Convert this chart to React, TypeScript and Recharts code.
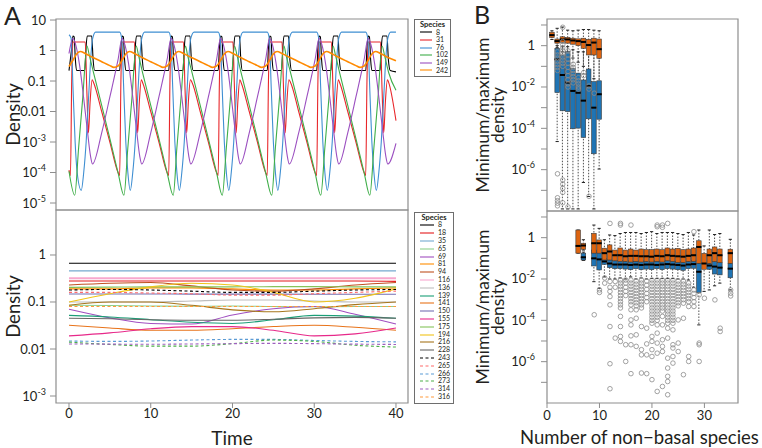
import React from 'react';
import {
  LineChart, Line, XAxis, YAxis, ReferenceArea, Legend,
  ComposedChart, Bar, ScatterChart, Scatter,
} from 'recharts';

const FONT = 'Lato, "Open Sans", sans-serif';
const FRAME = '#8e8e8e';
const INK = '#231f20';

// ---------- Panel A (top): oscillating community, [time, density]
const a8 = [
  [0, 0.22], [0.33, 1.2], [0.48, 3], [0.63, 2.8], [0.78, 0.5], [0.93, 0.22], [1.93, 0.22], [2.08, 1.2], [2.23, 3], [2.78, 3], [2.95, 0.5], [3.15, 0.22],
  [6.2, 0.22], [6.35, 1.2], [6.5, 3], [6.65, 2.8], [6.8, 0.5], [6.95, 0.22], [7.95, 0.22], [8.1, 1.2], [8.25, 3], [8.8, 3], [8.97, 0.5], [9.17, 0.22],
  [12.2, 0.22], [12.35, 1.2], [12.5, 3], [12.65, 2.8], [12.8, 0.5], [12.95, 0.22], [13.95, 0.22], [14.1, 1.2], [14.25, 3], [14.8, 3], [14.97, 0.5], [15.2, 0.22],
  [18.25, 0.22], [18.4, 1.2], [18.55, 3], [18.7, 2.8], [18.85, 0.5], [19.0, 0.22], [20.0, 0.22], [20.15, 1.2], [20.3, 3], [20.85, 3], [21.02, 0.5], [21.22, 0.22],
  [24.25, 0.22], [24.4, 1.2], [24.55, 3], [24.7, 2.8], [24.85, 0.5], [25.0, 0.22], [26.0, 0.22], [26.15, 1.2], [26.3, 3], [26.85, 3], [27.02, 0.5], [27.25, 0.22],
  [30.3, 0.22], [30.45, 1.2], [30.6, 3], [30.75, 2.8], [30.9, 0.5], [31.05, 0.22], [32.05, 0.22], [32.2, 1.2], [32.35, 3], [32.9, 3], [33.07, 0.5], [33.3, 0.22],
  [36.3, 0.22], [36.45, 1.2], [36.6, 3], [36.75, 2.8], [36.9, 0.5], [37.05, 0.22], [38.05, 0.22], [38.2, 1.2], [38.35, 3], [38.9, 3], [39.07, 0.5], [39.3, 0.22],
  [40, 0.2],
];
const a31 = [
  [0, 1.2e-4], [0.18, 8e-5], [0.33, 0.1], [0.48, 1.9], [1.98, 1.9], [2.18, 0.05], [2.38, 2e-3], [2.58, 0.02], [2.83, 0.11],
  [3.0, 0.09], [4.0, 0.01], [5.0, 1e-3], [6.0, 1e-4], [6.2, 8e-5], [6.35, 0.1], [6.5, 1.9], [8.0, 1.9], [8.2, 0.05], [8.4, 2e-3], [8.6, 0.02], [8.85, 0.11],
  [9.0, 0.09], [10.0, 0.01], [11.0, 1e-3], [12.0, 1e-4], [12.2, 8e-5], [12.35, 0.1], [12.5, 1.9], [14.0, 1.9], [14.2, 0.05], [14.4, 2e-3], [14.6, 0.02], [14.85, 0.11],
  [15.05, 0.09], [16.05, 0.01], [17.05, 1e-3], [18.05, 1e-4], [18.25, 8e-5], [18.4, 0.1], [18.55, 1.9], [20.05, 1.9], [20.25, 0.05], [20.45, 2e-3], [20.65, 0.02], [20.9, 0.11],
  [21.05, 0.09], [22.05, 0.01], [23.05, 1e-3], [24.05, 1e-4], [24.25, 8e-5], [24.4, 0.1], [24.55, 1.9], [26.05, 1.9], [26.25, 0.05], [26.45, 2e-3], [26.65, 0.02], [26.9, 0.11],
  [27.1, 0.09], [28.1, 0.01], [29.1, 1e-3], [30.1, 1e-4], [30.3, 8e-5], [30.45, 0.1], [30.6, 1.9], [32.1, 1.9], [32.3, 0.05], [32.5, 2e-3], [32.7, 0.02], [32.95, 0.11],
  [33.1, 0.09], [34.1, 0.01], [35.1, 1e-3], [36.1, 1e-4], [36.3, 8e-5], [36.45, 0.1], [36.6, 1.9], [38.1, 1.9], [38.3, 0.05], [38.5, 2e-3], [38.7, 0.02], [38.95, 0.11],
  [39.1, 0.09], [40, 5e-3],
];
const a76 = [
  [0, 3.3], [0.25, 2.6], [0.5, 0.05], [0.75, 1e-3], [1.0, 1e-4], [1.5, 2.6e-5], [1.8, 1e-4], [2.1, 1e-3], [2.4, 0.03], [2.7, 0.8], [2.9, 2.5],
  [3.25, 4], [6.2, 4], [6.45, 2.5], [6.7, 0.05], [6.95, 1e-3], [7.2, 1e-4], [7.5, 2.6e-5], [7.8, 1e-4], [8.1, 1e-3], [8.4, 0.03], [8.7, 0.8], [8.9, 2.5],
  [9.25, 4], [12.2, 4], [12.45, 2.5], [12.7, 0.05], [12.95, 1e-3], [13.2, 1e-4], [13.5, 2.6e-5], [13.8, 1e-4], [14.1, 1e-3], [14.4, 0.03], [14.7, 0.8], [14.9, 2.5],
  [15.3, 4], [18.25, 4], [18.5, 2.5], [18.75, 0.05], [19.0, 1e-3], [19.25, 1e-4], [19.55, 2.6e-5], [19.85, 1e-4], [20.15, 1e-3], [20.45, 0.03], [20.75, 0.8], [20.95, 2.5],
  [21.3, 4], [24.25, 4], [24.5, 2.5], [24.75, 0.05], [25.0, 1e-3], [25.25, 1e-4], [25.55, 2.6e-5], [25.85, 1e-4], [26.15, 1e-3], [26.45, 0.03], [26.75, 0.8], [26.95, 2.5],
  [27.35, 4], [30.3, 4], [30.55, 2.5], [30.8, 0.05], [31.05, 1e-3], [31.3, 1e-4], [31.6, 2.6e-5], [31.9, 1e-4], [32.2, 1e-3], [32.5, 0.03], [32.8, 0.8], [33.0, 2.5],
  [33.35, 4], [36.3, 4], [36.55, 2.5], [36.8, 0.05], [37.05, 1e-3], [37.3, 1e-4], [37.6, 2.6e-5], [37.9, 1e-4], [38.2, 1e-3], [38.5, 0.03], [38.8, 0.8], [39.0, 2.5],
  [39.35, 4], [40, 4],
];
const a102 = [
  [0, 1.1e-4], [0.7, 1.8e-5], [1.18, 6.6e-4], [1.68, 0.028], [2.2, 1.4], [2.48, 0.7],
  [3.0, 0.19], [4.0, 0.016], [5.0, 1.3e-3], [6.0, 1e-4], [6.72, 1.8e-5], [7.2, 6.6e-4], [7.7, 0.028], [8.22, 1.4], [8.5, 0.7],
  [9.0, 0.19], [10.0, 0.016], [11.0, 1.3e-3], [12.0, 1e-4], [12.75, 1.8e-5], [13.2, 6.6e-4], [13.7, 0.028], [14.25, 1.4], [14.5, 0.7],
  [15.05, 0.19], [16.05, 0.016], [17.05, 1.3e-3], [18.05, 1e-4], [18.75, 1.8e-5], [19.25, 6.6e-4], [19.75, 0.028], [20.25, 1.4], [20.55, 0.7],
  [21.05, 0.19], [22.05, 0.016], [23.05, 1.3e-3], [24.05, 1e-4], [24.8, 1.8e-5], [25.25, 6.6e-4], [25.75, 0.028], [26.3, 1.4], [26.55, 0.7],
  [27.1, 0.19], [28.1, 0.016], [29.1, 1.3e-3], [30.1, 1e-4], [30.8, 1.8e-5], [31.3, 6.6e-4], [31.8, 0.028], [32.3, 1.4], [32.6, 0.7],
  [33.1, 0.19], [34.1, 0.016], [35.1, 1.3e-3], [36.1, 1e-4], [36.8, 1.8e-5], [37.3, 6.6e-4], [37.8, 0.028], [38.3, 1.4], [38.6, 0.7],
  [39.1, 0.19], [40, 0.05],
];
const a149 = [
  [0, 0.8], [0.48, 2.5], [0.83, 1.5], [1.28, 0.35], [1.78, 0.03], [2.28, 2e-3], [2.63, 3.5e-4], [2.88, 1.9e-4],
  [4.0, 2e-3], [5.0, 0.03], [6.0, 0.5], [6.5, 2.5], [6.85, 1.5], [7.3, 0.35], [7.8, 0.03], [8.3, 2e-3], [8.65, 3.5e-4], [8.9, 1.9e-4],
  [10.0, 2e-3], [11.0, 0.03], [12.0, 0.5], [12.5, 2.5], [12.85, 1.5], [13.3, 0.35], [13.8, 0.03], [14.3, 2e-3], [14.65, 3.5e-4], [14.9, 1.9e-4],
  [16.05, 2e-3], [17.05, 0.03], [18.05, 0.5], [18.55, 2.5], [18.9, 1.5], [19.35, 0.35], [19.85, 0.03], [20.35, 2e-3], [20.7, 3.5e-4], [20.95, 1.9e-4],
  [22.05, 2e-3], [23.05, 0.03], [24.05, 0.5], [24.55, 2.5], [24.9, 1.5], [25.35, 0.35], [25.85, 0.03], [26.35, 2e-3], [26.7, 3.5e-4], [26.95, 1.9e-4],
  [28.1, 2e-3], [29.1, 0.03], [30.1, 0.5], [30.6, 2.5], [30.95, 1.5], [31.4, 0.35], [31.9, 0.03], [32.4, 2e-3], [32.75, 3.5e-4], [33.0, 1.9e-4],
  [34.1, 2e-3], [35.1, 0.03], [36.1, 0.5], [36.6, 2.5], [36.95, 1.5], [37.4, 0.35], [37.9, 0.03], [38.4, 2e-3], [38.75, 3.5e-4], [39.0, 1.9e-4],
  [40, 9e-4],
];
const a242 = [
  [0, 0.3], [0.48, 0.48], [0.98, 0.8], [1.38, 0.93], [1.98, 0.8], [2.48, 0.68],
  [3.0, 0.58], [4.0, 0.43], [5.0, 0.32], [5.5, 0.28], [6.0, 0.31], [6.5, 0.48], [7.0, 0.8], [7.4, 0.93], [8.0, 0.8], [8.5, 0.68],
  [9.0, 0.58], [10.0, 0.43], [11.0, 0.32], [11.5, 0.28], [12.0, 0.31], [12.5, 0.48], [13.0, 0.8], [13.4, 0.93], [14.0, 0.8], [14.5, 0.68],
  [15.05, 0.58], [16.05, 0.43], [17.05, 0.32], [17.55, 0.28], [18.05, 0.31], [18.55, 0.48], [19.05, 0.8], [19.45, 0.93], [20.05, 0.8], [20.55, 0.68],
  [21.05, 0.58], [22.05, 0.43], [23.05, 0.32], [23.55, 0.28], [24.05, 0.31], [24.55, 0.48], [25.05, 0.8], [25.45, 0.93], [26.05, 0.8], [26.55, 0.68],
  [27.1, 0.58], [28.1, 0.43], [29.1, 0.32], [29.6, 0.28], [30.1, 0.31], [30.6, 0.48], [31.1, 0.8], [31.5, 0.93], [32.1, 0.8], [32.6, 0.68],
  [33.1, 0.58], [34.1, 0.43], [35.1, 0.32], [35.6, 0.28], [36.1, 0.31], [36.6, 0.48], [37.1, 0.8], [37.5, 0.93], [38.1, 0.8], [38.6, 0.68],
  [39.1, 0.58], [40, 0.46],
];
const topIds = ['8', '31', '76', '102', '149', '242'];
const topColors = ['#000000', '#e8262a', '#3f8fd2', '#3fae49', '#9b4fc0', '#ff8a00'];
const topSeries = [a8, a31, a76, a102, a149, a242];

// ---------- Panel A (bottom): stable community, densities at these times
const bottomTimes = [0, 5, 10, 15, 20, 25, 30, 35, 40];
const d8 = [0.665, 0.665, 0.665, 0.665, 0.665, 0.665, 0.665, 0.665, 0.665];
const d18 = [0.28, 0.28, 0.28, 0.28, 0.28, 0.28, 0.28, 0.28, 0.275];
const d35 = [0.46, 0.46, 0.46, 0.46, 0.46, 0.46, 0.46, 0.46, 0.46];
const d65 = [0.085, 0.084, 0.082, 0.081, 0.082, 0.08, 0.079, 0.08, 0.08];
const d69 = [0.07, 0.046, 0.035, 0.034, 0.053, 0.072, 0.08, 0.055, 0.034];
const d81 = [0.19, 0.19, 0.2, 0.2, 0.19, 0.18, 0.18, 0.19, 0.2];
const d94 = [0.23, 0.25, 0.26, 0.22, 0.18, 0.17, 0.19, 0.23, 0.26];
const d116 = [0.32, 0.32, 0.32, 0.32, 0.32, 0.32, 0.32, 0.32, 0.32];
const d136 = [0.1, 0.1, 0.1, 0.105, 0.11, 0.11, 0.105, 0.1, 0.1];
const d139 = [0.052, 0.048, 0.042, 0.037, 0.035, 0.042, 0.052, 0.05, 0.045];
const d141 = [0.032, 0.028, 0.025, 0.025, 0.027, 0.03, 0.032, 0.029, 0.025];
const d150 = [0.148, 0.148, 0.148, 0.147, 0.147, 0.147, 0.146, 0.146, 0.146];
const d155 = [0.019, 0.022, 0.027, 0.03, 0.03, 0.025, 0.019, 0.021, 0.028];
const d175 = [0.205, 0.207, 0.21, 0.21, 0.21, 0.212, 0.212, 0.21, 0.21];
const d194 = [0.1, 0.15, 0.21, 0.25, 0.23, 0.16, 0.1, 0.12, 0.19];
const d216 = [0.085, 0.1, 0.1, 0.085, 0.068, 0.062, 0.072, 0.088, 0.1];
const d228 = [0.045, 0.044, 0.042, 0.041, 0.041, 0.043, 0.046, 0.047, 0.045];
const d243 = [0.18, 0.185, 0.18, 0.17, 0.16, 0.16, 0.17, 0.18, 0.185];
const d265 = [0.16, 0.16, 0.155, 0.15, 0.14, 0.14, 0.15, 0.16, 0.17];
const d266 = [0.0148, 0.0145, 0.0148, 0.0155, 0.016, 0.016, 0.0152, 0.0145, 0.0142];
const d273 = [0.014, 0.0125, 0.0115, 0.0115, 0.013, 0.0155, 0.0145, 0.012, 0.011];
const d314 = [0.0128, 0.0127, 0.0126, 0.0128, 0.013, 0.0132, 0.013, 0.0127, 0.0125];
const d316 = [0.08, 0.08, 0.08, 0.08, 0.08, 0.08, 0.08, 0.08, 0.08];
const bottomIds = ['8', '18', '35', '65', '69', '81', '94', '116', '136', '139', '141', '150', '155', '175', '194', '216', '228', '243', '265', '266', '273', '314', '316'];
const bottomSeries = [d8, d18, d35, d65, d69, d81, d94, d116, d136, d139, d141, d150, d155, d175, d194, d216, d228, d243, d265, d266, d273, d314, d316];
const bottomColors = ['#000000', '#e31a1c', '#74a9cf', '#8dd08a', '#a14fc0', '#ff8c00', '#c0501f', '#f7a8cf', '#bdbdbd', '#1b9e77', '#e8731a', '#7570b3', '#e7298a', '#86c35a', '#f0c419', '#a6761d', '#666666', '#000000', '#ff6b6b', '#5b9bd5', '#4daf4a', '#9e5fbf', '#ff9a3c'];
const bottomDashed = bottomIds.map((_, i) => i >= 17);

// ---------- Panel B: box statistics as log10 of min/max density, per number of non-basal species
const topN = [1, 2, 3, 4, 5, 6, 7, 8, 9, 10];
const topMaxLo = [0.3, -0.1, -0.3, -0.4, -0.6, -0.8, -1.0, -1.3, -1.6, -1.8];
const topMaxQ1 = [0.39, 0.12, 0.15, 0.12, 0.07, 0.0, -0.13, -0.45, -0.45, -0.61];
const topMaxMed = [0.51, 0.22, 0.3, 0.3, 0.25, 0.22, 0.18, 0.03, 0.15, -0.17];
const topMaxQ3 = [0.65, 0.32, 0.43, 0.4, 0.36, 0.33, 0.36, 0.31, 0.36, 0.32];
const topMaxHi = [0.72, 0.84, 0.9, 0.75, 0.72, 0.75, 0.78, 0.78, 0.75, 0.72];
const topMinLo = [null, -4.64, -7.9, -7.9, -7.9, -7.9, -6.62, -7.3, -7.9, -5.97];
const topMinQ1 = [null, -2.27, -3.15, -3.19, -4.02, -3.99, -4.44, -3.54, -5.23, -3.56];
const topMinMed = [null, -0.66, -1.42, -1.79, -2.19, -2.28, -2.66, -1.95, -3.0, -2.35];
const topMinQ3 = [null, -0.13, -0.45, -0.29, -1.09, -1.33, -1.66, -1.13, -1.74, -1.7];
const topMinHi = [null, 0.0, -0.05, -0.05, -0.2, -0.3, -0.3, -0.2, -0.3, -0.4];
const topOutliers = [
  [2, [-0.3, -0.45, -0.6, -0.75, -0.9, -1.05, -1.2, -6.2, -7.36, -7.5, -7.62, -7.75]],
  [3, [0.89, 0.2, 0.05, -0.1, -0.25, -0.4, -0.55, -0.7, -0.85, -1.0, -6.5, -6.7, -6.9, -7.1, -7.6]],
  [4, [-0.25, -0.45, -0.65, -0.85, -1.05, -1.25, -1.45, -1.65, -1.85, -2.0, -7.8]],
  [5, [-0.9, -1.05, -1.2, -1.35, -1.5, -1.65, -1.8]],
  [6, [-1.55, -1.7, -1.85, -2.0, -2.1]],
  [7, [-1.3, -1.45]],
  [8, [-1.95, -2.1, -7.29]],
  [9, [-2.3]],
];

const botN = [6, 7, 9, 10, 11, 12, 13, 14, 15, 16, 17, 18, 19, 20, 21, 22, 23, 24, 25, 26, 27, 28, 29, 30, 31, 32, 33, 35];
const botMaxLo = [-0.75, -0.6, -0.8, -0.8, -1.15, -1.15, -1.2, -1.2, -1.2, -1.25, -1.2, -1.25, -1.2, -1.25, -1.2, -1.25, -1.2, -1.2, -1.25, -1.25, -1.2, -1.2, -1.3, -2.6, -1.3, -1.2, -1.25, -1.3];
const botMaxQ1 = [-0.75, -0.56, -0.75, -0.75, -1.08, -1.08, -1.12, -1.15, -1.15, -1.18, -1.15, -1.18, -1.15, -1.18, -1.15, -1.18, -1.12, -1.15, -1.2, -1.2, -1.15, -1.15, -1.24, -1.53, -1.24, -1.16, -1.21, -1.24];
const botMaxMed = [-0.4, -0.38, -0.27, -0.27, -0.75, -0.67, -0.85, -0.85, -0.9, -0.88, -0.88, -0.9, -0.9, -0.92, -0.88, -0.9, -0.85, -0.88, -0.9, -0.92, -0.88, -0.85, -0.45, -1.25, -0.85, -0.75, -0.85, -0.75];
const botMaxQ3 = [0.37, -0.27, 0.21, -0.11, -0.51, -0.35, -0.6, -0.5, -0.6, -0.55, -0.6, -0.55, -0.58, -0.58, -0.55, -0.58, -0.5, -0.55, -0.52, -0.58, -0.55, -0.5, -0.15, -0.76, -0.55, -0.45, -0.55, -0.56];
const botMaxHi = [0.37, -0.1, 0.61, 0.45, -0.1, 0.13, 0.1, 0.2, 0.25, 0.25, 0.25, 0.2, 0.25, 0.29, 0.2, 0.25, 0.25, 0.25, 0.2, 0.15, 0.25, 0.13, 0.37, -0.4, 0.37, 0.15, 0.2, -0.08];
const botMinLo = [null, -1.1, -2.13, -2.45, -1.9, -2.0, -2.0, -1.95, -2.0, -1.9, -2.0, -1.95, -2.0, -1.98, -1.98, -1.98, -1.98, -1.98, -2.0, -2.0, -2.05, -2.4, -4.22, null, -2.53, -2.33, -2.2, -2.53];
const botMinQ1 = [null, -1.08, -1.37, -1.56, -1.3, -1.45, -1.5, -1.5, -1.52, -1.55, -1.5, -1.55, -1.52, -1.55, -1.5, -1.55, -1.5, -1.52, -1.55, -1.58, -1.5, -1.48, -2.66, null, -1.53, -1.76, -1.8, -1.94];
const botMinMed = [null, -0.95, -1.0, -1.05, -1.15, -1.25, -1.3, -1.3, -1.3, -1.32, -1.3, -1.32, -1.3, -1.3, -1.32, -1.3, -1.28, -1.3, -1.32, -1.35, -1.3, -1.28, -1.65, null, -1.35, -1.4, -1.45, -1.5];
const botMinQ3 = [null, -0.75, -0.6, -0.72, -1.0, -1.08, -1.12, -1.1, -1.15, -1.12, -1.15, -1.12, -1.15, -1.15, -1.12, -1.15, -1.1, -1.12, -1.15, -1.2, -1.15, -1.1, -1.24, null, -1.24, -1.16, -1.21, -1.24];
const botMinHi = [null, -0.7, -0.55, -0.65, -0.95, -1.0, -1.05, -1.05, -1.1, -1.08, -1.1, -1.08, -1.1, -1.1, -1.08, -1.1, -1.05, -1.08, -1.1, -1.15, -1.1, -1.05, -1.2, null, -1.2, -1.1, -1.15, -1.2];
const botOutliers = [
  [9, [-3.73]],
  [10, [-2.53, -2.65]],
  [11, [-1.95, -2.2]],
  [12, [0.69, -2.12, -2.4, -2.6, -2.85, -3.25, -4.3, -6.1, -7.31]],
  [13, [-2.12, -2.4, -4.86]],
  [14, [0.61, 0.69, -2.05, -2.2, -2.35, -2.5, -2.65, -2.8, -2.95, -3.1, -3.25, -3.4, -3.81, -4.3, -4.78, -5.02]],
  [15, [-2.05, -2.2, -2.4, -2.6, -2.8, -5.18, -5.99]],
  [16, [0.61, -2.05, -2.2, -2.35, -2.5, -2.65, -2.8, -2.95, -3.1, -3.25, -3.49, -3.98, -4.22, -4.75, -5.18, -6.58]],
  [17, [-2.1, -2.25, -2.4, -2.55, -2.7, -2.85, -3.0, -3.15, -3.3, -3.49, -3.9, -4.7, -5.26]],
  [18, [-2.05, -2.2, -2.35, -2.5, -2.65, -2.8, -2.95, -3.1, -3.25, -3.4, -4.3, -5.42, -5.67, -6.55]],
  [19, [-2.1, -2.3, -2.5, -2.7, -2.9, -3.1, -4.38, -5.14, -5.67, -6.58]],
  [20, [-2.05, -2.2, -2.35, -2.5, -2.65, -2.8, -2.95, -3.1, -3.25, -3.4, -3.55, -3.7, -3.85, -4.0, -4.14, -4.78, -5.02, -5.42, -5.75, -6.87]],
  [21, [0.61, 0.53, -2.05, -2.2, -2.35, -2.5, -2.65, -2.8, -2.95, -3.1, -3.25, -3.4, -3.55, -3.7, -3.85, -4.0, -4.22, -4.62, -5.1, -5.59, -7.44]],
  [22, [0.61, 0.5, -2.05, -2.2, -2.35, -2.5, -2.65, -2.8, -2.95, -3.1, -3.25, -3.4, -3.55, -3.81, -4.22, -4.94, -5.26, -5.51, -7.2]],
  [23, [0.69, -2.05, -2.2, -2.35, -2.5, -2.65, -2.8, -2.95, -3.1, -3.25, -3.4, -3.55, -3.7, -3.85, -4.0, -4.14, -4.38, -4.86, -5.83, -6.31, -6.71, -6.96, -7.6]],
  [24, [-2.05, -2.2, -2.35, -2.5, -2.65, -2.8, -2.95, -3.1, -3.25, -3.4, -3.55, -3.7, -3.85, -4.0, -4.14, -4.46, -5.18, -5.34, -5.75, -6.07]],
  [25, [-2.1, -2.25, -2.4, -2.55, -2.7, -2.85, -3.0, -3.15, -3.3, -3.98, -5.1, -5.51]],
  [26, [-2.1, -2.25, -2.4, -2.55, -2.7, -2.85, -3.0, -3.17, -3.9, -6.63]],
  [27, [-2.2, -2.35, -2.5, -2.65, -2.8, -2.95, -3.1, -3.33, -5.75, -5.99]],
  [28, [0.29, -2.53, -2.7, -2.9, -3.1, -3.33]],
  [29, [-2.77, -5.1, -5.18, -5.99]],
  [30, [-2.93]],
  [32, [-3.01]],
  [33, [-4.38, -4.54]],
  [35, [-2.53, -2.69, -2.82]],
];

// ---------- axes settings
const X_MIN = -1.59;
const X_MAX = 41.47;
const TOP_MIN = 5.9e-6;
const TOP_MAX = 10.8;
const BOT_MIN = 7.1e-4;
const BOT_MAX = 9.06;
const B_MIN = 1e-8;
const B_MAX = 19.5;
const B_XMAX = 36.4;
const timeTicks = [0, 10, 20, 30, 40];
const topYTicks = [10, 1, 0.1, 0.01, 1e-3, 1e-4, 1e-5];
const botYTicks = [1, 0.1, 0.01, 1e-3];
const bYTicks = [10, 1, 0.1, 1e-2, 1e-3, 1e-4, 1e-5, 1e-6, 1e-7];
const bXTicks = [0, 10, 20, 30];
const ORANGE = '#dd6410';
const BLUE = '#1f74b4';

const pow = (e: number | null) => (e == null ? undefined : Math.pow(10, e));
const range = (a: number | null, b: number | null) => (a == null || b == null ? undefined : [pow(a), pow(b)]);

function buildRows(ns: number[], mLo: any[], mQ1: any[], mMed: any[], mQ3: any[], mHi: any[], nLo: any[], nQ1: any[], nMed: any[], nQ3: any[], nHi: any[]) {
  return ns.map((n, i) => ({
    n,
    maxW: range(mLo[i], mHi[i]),
    maxUp: range(mMed[i], mQ3[i]),
    maxLow: range(mQ1[i], mMed[i]),
    minW: range(nLo[i], nHi[i]),
    minUp: range(nMed[i], nQ3[i]),
    minLow: range(nQ1[i], nMed[i]),
  }));
}
const flatOutliers = (list: any[]) => list.flatMap(([n, es]: any) => es.map((e: number) => ({ n, v: pow(e) })));

const topRows = buildRows(topN, topMaxLo, topMaxQ1, topMaxMed, topMaxQ3, topMaxHi, topMinLo, topMinQ1, topMinMed, topMinQ3, topMinHi);
const botRows = buildRows(botN, botMaxLo, botMaxQ1, botMaxMed, botMaxQ3, botMaxHi, botMinLo, botMinQ1, botMinMed, botMinQ3, botMinHi);
const bottomRows = bottomTimes.map((t, i) => {
  const row: any = { t };
  bottomIds.forEach((id, k) => { row['s' + id] = bottomSeries[k][i]; });
  return row;
});

// ---------- small render helpers
const supLabel = (x: number, y: number, e: number) => (
  <text x={x} y={y} dy={4.5} textAnchor="end" fontSize={13} fill={INK}>
    10<tspan dy={-6} fontSize={9}>{String(e)}</tspan>
  </text>
);

const TickA = (props: any) => {
  const { x, y, payload } = props;
  const e = Math.round(Math.log10(payload.value));
  if (e < -2) return supLabel(x, y, e);
  const txt = e === 1 ? '10' : e === 0 ? '1' : e === -1 ? '0.1' : '0.01';
  return <text x={x} y={y} dy={4.5} textAnchor="end" fontSize={13} fill={INK}>{txt}</text>;
};

const TickB = (props: any) => {
  const { x, y, payload } = props;
  const e = Math.round(Math.log10(payload.value));
  if (Math.abs(e) % 2 === 1) return <g />;
  if (e === 0) return <text x={x} y={y} dy={4.5} textAnchor="end" fontSize={13} fill={INK}>1</text>;
  return supLabel(x, y, e);
};

const XTick = (props: any) => (
  <text x={props.x} y={props.y} dy={props.shift} textAnchor="middle" fontSize={13} fill={INK}>
    {props.payload.value}
  </text>
);

const XTitle = (props: any) => {
  const vb = props.viewBox;
  return (
    <text x={vb.x + vb.width / 2 + (props.dx || 0)} y={vb.y + props.shift} textAnchor="middle" fontSize={props.size || 19} fill={INK}>
      {props.text}
    </text>
  );
};

const RotLabel = (props: any) => {
  const vb = props.viewBox;
  const cy = vb.y + vb.height / 2;
  return (
    <text x={props.bx} y={cy} transform={`rotate(-90 ${props.bx} ${cy})`} textAnchor="middle" fontSize={props.size} fill={INK}>
      {props.text}
    </text>
  );
};

const TwoLineLabel = (props: any) => {
  const vb = props.viewBox;
  const cy = vb.y + vb.height / 2;
  return (
    <g>
      <text x={19} y={cy} transform={`rotate(-90 19 ${cy})`} textAnchor="middle" fontSize={17.5} fill={INK}>Minimum/maximum</text>
      <text x={34} y={cy} transform={`rotate(-90 34 ${cy})`} textAnchor="middle" fontSize={17.5} fill={INK}>density</text>
    </g>
  );
};

const bad = (p: any) => [p.x, p.y, p.width, p.height].some((v) => v == null || Number.isNaN(v));

const Whisker = (p: any) => {
  if (bad(p)) return <g />;
  const cx = p.x + p.width / 2;
  return (
    <g>
      <line x1={cx} x2={cx} y1={p.y} y2={p.y + p.height} stroke="#222" strokeWidth={0.8} strokeDasharray="1.5 1.5" />
      <line x1={cx - 1.6} x2={cx + 1.6} y1={p.y} y2={p.y} stroke="#222" strokeWidth={1} />
      <line x1={cx - 1.6} x2={cx + 1.6} y1={p.y + p.height} y2={p.y + p.height} stroke="#222" strokeWidth={1} />
    </g>
  );
};

const makeBox = (fill: string, median: boolean) => (p: any) => {
  if (bad(p)) return <g />;
  return (
    <g>
      <rect x={p.x} y={p.y} width={p.width} height={p.height} fill={fill} stroke="#3a3a3a" strokeWidth={0.6} />
      {median && <line x1={p.x - 0.3} x2={p.x + p.width + 0.3} y1={p.y} y2={p.y} stroke="#000" strokeWidth={2} />}
    </g>
  );
};
const OrangeUp = makeBox(ORANGE, false);
const OrangeLow = makeBox(ORANGE, true);
const BlueUp = makeBox(BLUE, false);
const BlueLow = makeBox(BLUE, true);

const Ring = (p: any) => <circle cx={p.cx} cy={p.cy} r={2.3} fill="none" stroke="#8a8a8a" strokeWidth={0.8} />;

function SpeciesLegend({ ids, colors, dashed, rowH, swatch }: any) {
  return (
    <div style={{ boxSizing: 'border-box', border: '1px solid #6e6e6e', background: '#fff', padding: '1px 2px 2px 5px', fontSize: 7, lineHeight: `${rowH}px`, color: INK }}>
      <div style={{ fontWeight: 700, textAlign: 'center', fontSize: 7.5, marginLeft: -3 }}>Species</div>
      {ids.map((id: string, i: number) => (
        <div key={id} style={{ display: 'flex', alignItems: 'center', height: rowH }}>
          <svg width={swatch} height={4} style={{ flex: 'none' }}>
            <line x1={0} x2={swatch} y1={2} y2={2} stroke={colors[i]} strokeWidth={1.1} strokeDasharray={dashed && dashed[i] ? '3 2.5' : undefined} />
          </svg>
          <span style={{ marginLeft: 4 }}>{id}</span>
        </div>
      ))}
    </div>
  );
}

function BoxPanel({ rows, outliers, top, height, marginTop, axisH, labelled }: any) {
  return (
    <>
      <div style={{ position: 'absolute', left: 470, top }}>
        <ComposedChart width={292} height={height} data={rows} margin={{ top: marginTop, right: 24, bottom: 0, left: 77 }} barSize={4.6} barGap={-4.6}>
          <ReferenceArea x1={0} x2={B_XMAX} y1={B_MIN} y2={B_MAX} fill="none" stroke={FRAME} strokeWidth={1.2} ifOverflow="visible" />
          <XAxis
            type="number" dataKey="n" domain={[0, B_XMAX]} allowDataOverflow ticks={bXTicks} height={axisH}
            axisLine={false} tickLine={{ stroke: FRAME }} tickSize={5}
            tick={labelled ? <XTick shift={10} /> : false}
            label={labelled ? <XTitle text="Number of non−basal species" shift={41} size={18.5} dx={-3} /> : undefined}
          />
          <YAxis type="number" scale="log" domain={[B_MIN, B_MAX]} allowDataOverflow hide />
          <Bar dataKey="maxW" shape={Whisker} isAnimationActive={false} />
          <Bar dataKey="minW" shape={Whisker} isAnimationActive={false} />
          <Bar dataKey="minUp" shape={BlueUp} isAnimationActive={false} />
          <Bar dataKey="minLow" shape={BlueLow} isAnimationActive={false} />
          <Bar dataKey="maxUp" shape={OrangeUp} isAnimationActive={false} />
          <Bar dataKey="maxLow" shape={OrangeLow} isAnimationActive={false} />
        </ComposedChart>
      </div>
      <div style={{ position: 'absolute', left: 470, top, pointerEvents: 'none' }}>
        <ScatterChart width={292} height={height} margin={{ top: marginTop, right: 24, bottom: 0, left: 0 }}>
          <XAxis type="number" dataKey="n" domain={[0, B_XMAX]} allowDataOverflow height={axisH} tick={false} tickLine={false} axisLine={false} />
          <YAxis
            type="number" dataKey="v" scale="log" domain={[B_MIN, B_MAX]} allowDataOverflow ticks={bYTicks} width={77}
            axisLine={false} tickLine={{ stroke: FRAME }} tickSize={6} tickMargin={6} interval={0}
            tick={<TickB />} label={<TwoLineLabel />}
          />
          <Scatter data={flatOutliers(outliers)} shape={Ring} isAnimationActive={false} />
        </ScatterChart>
      </div>
    </>
  );
}

export default function App() {
  return (
    <div style={{ position: 'absolute', left: 0, top: 0, width: 762, height: 448, background: '#fff', fontFamily: FONT, color: INK, overflow: 'hidden' }}>
      {/* A, top */}
      <div style={{ position: 'absolute', left: 0, top: 0 }}>
        <LineChart width={460} height={216} margin={{ top: 19, right: 52, bottom: 0, left: 0 }}>
          <ReferenceArea x1={X_MIN} x2={X_MAX} y1={TOP_MIN} y2={TOP_MAX} fill="none" stroke={FRAME} strokeWidth={1.2} ifOverflow="visible" />
          <XAxis type="number" dataKey="t" domain={[X_MIN, X_MAX]} allowDataOverflow ticks={timeTicks} height={6}
            axisLine={false} tick={false} tickLine={{ stroke: FRAME }} tickSize={4} />
          <YAxis type="number" scale="log" domain={[TOP_MIN, TOP_MAX]} allowDataOverflow ticks={topYTicks} width={56}
            axisLine={false} tickLine={{ stroke: FRAME }} tickSize={6} tickMargin={4} interval={0}
            tick={<TickA />} label={<RotLabel text="Density" bx={20} size={18.5} />} />
          {topSeries.map((s, i) => (
            <Line key={topIds[i]} name={topIds[i]} data={s.map(([t, v]) => ({ t, v }))} dataKey="v" type="monotone"
              stroke={topColors[i]} strokeWidth={i === 5 ? 1.6 : 1.1} dot={false} isAnimationActive={false} />
          ))}
          <Legend layout="vertical" align="center" verticalAlign="middle"
            wrapperStyle={{ left: 414, top: 19, width: 37 }}
            content={() => <SpeciesLegend ids={topIds} colors={topColors} rowH={7.6} swatch={12} />} />
        </LineChart>
      </div>

      {/* A, bottom */}
      <div style={{ position: 'absolute', left: 0, top: 190 }}>
        <LineChart width={460} height={258} data={bottomRows} margin={{ top: 20, right: 52, bottom: 0, left: 0 }}>
          <ReferenceArea x1={X_MIN} x2={X_MAX} y1={BOT_MIN} y2={BOT_MAX} fill="none" stroke={FRAME} strokeWidth={1.2} ifOverflow="visible" />
          <XAxis type="number" dataKey="t" domain={[X_MIN, X_MAX]} allowDataOverflow ticks={timeTicks} height={45}
            axisLine={false} tickLine={{ stroke: FRAME }} tickSize={5}
            tick={<XTick shift={8} />} label={<XTitle text="Time" shift={42} />} />
          <YAxis type="number" scale="log" domain={[BOT_MIN, BOT_MAX]} allowDataOverflow ticks={botYTicks} width={56}
            axisLine={false} tickLine={{ stroke: FRAME }} tickSize={6} tickMargin={4} interval={0}
            tick={<TickA />} label={<RotLabel text="Density" bx={20} size={18.5} />} />
          {bottomIds.map((id, i) => (
            <Line key={id} name={id} dataKey={'s' + id} type="monotone" stroke={bottomColors[i]}
              strokeWidth={id === '116' ? 1.8 : 1.1} strokeDasharray={bottomDashed[i] ? '3 2.5' : undefined}
              dot={false} isAnimationActive={false} />
          ))}
          <Legend layout="vertical" align="center" verticalAlign="middle"
            wrapperStyle={{ left: 414, top: 21.7, width: 40 }}
            content={() => <SpeciesLegend ids={bottomIds} colors={bottomColors} dashed={bottomDashed} rowH={7.8} swatch={14} />} />
        </LineChart>
      </div>

      {/* B */}
      <BoxPanel rows={topRows} outliers={topOutliers} top={0} height={216} marginTop={19} axisH={5} labelled={false} />
      <BoxPanel rows={botRows} outliers={botOutliers} top={190} height={258} marginTop={21} axisH={45} labelled />

      <svg width={762} height={448} style={{ position: 'absolute', left: 0, top: 0, pointerEvents: 'none' }}>
        <text x={4} y={25} fontSize={25} fill={INK}>A</text>
        <text x={474} y={23.5} fontSize={25} fill={INK}>B</text>
      </svg>
    </div>
  );
}
